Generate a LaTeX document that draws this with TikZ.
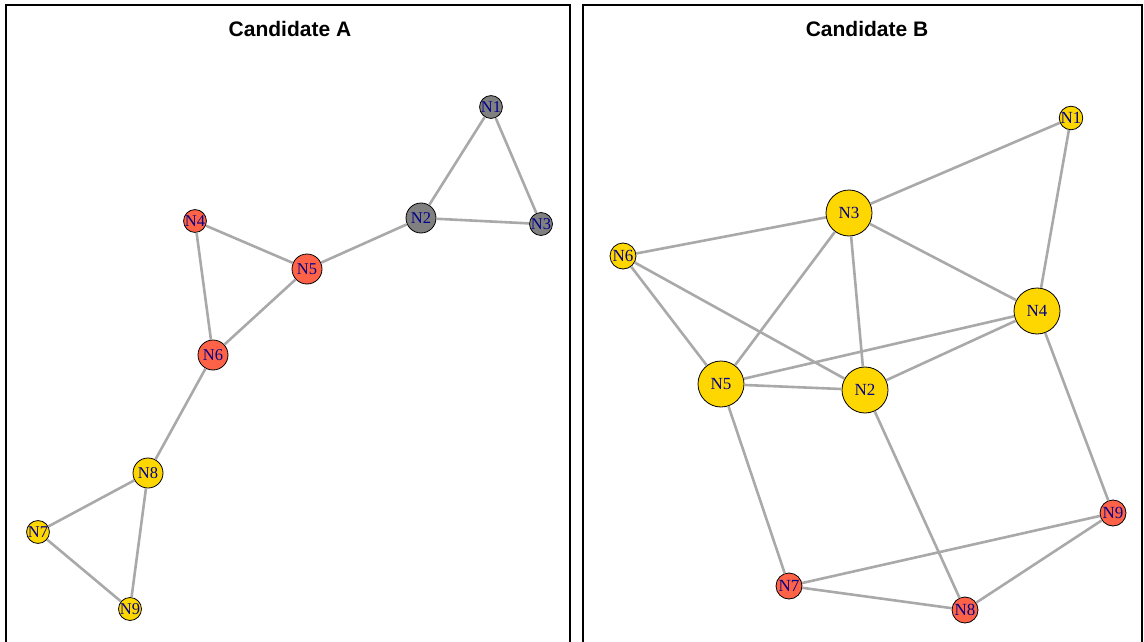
\documentclass[tikz,border=0pt]{standalone}
\usepackage{fontspec}
\setmainfont{Liberation Serif}
\newfontfamily\titlefont{Liberation Sans}
\definecolor{vtomato}{RGB}{255,99,71}
\definecolor{vgold}{RGB}{255,215,0}
\definecolor{vgray}{RGB}{128,128,128}
\definecolor{edgegray}{RGB}{169,169,169}
\definecolor{labblue}{RGB}{0,0,139}

\begin{document}
\begin{tikzpicture}[x=1pt, y=-1pt,
  vert/.style = {circle, draw=black, line width=.8pt, inner sep=0pt, text=labblue, font=\fontsize{16.5}{16.5}\selectfont},
  small/.style = {vert, minimum size=16pt},
  mid/.style = {vert, minimum size=30pt},
  big/.style = {vert, minimum size=46pt},
  bvert/.style = {vert, font=\fontsize{17}{17}\selectfont},
  edge/.style = {draw=edgegray, line width=2.6pt},
  panel/.style = {line width=2pt},
  title/.style = {font=\titlefont\bfseries\fontsize{21}{21}\selectfont},]

\useasboundingbox (0,0) rectangle (1144,642);

\draw[panel] (6,642) -- (6,5) -- (570,5) -- (570,642);
\draw[panel] (583,642) -- (583,5) -- (1142,5) -- (1142,642);

\node[title] (titleA) at (290,29) {Candidate A};
\node[title] (titleB) at (867,29) {Candidate B};

% Candidate A
\node[small, fill=vgray] (aN1) at (491,107) {N1};
\node[mid, fill=vgray] (aN2) at (421,218) {N2};
\node[small, fill=vgray] (aN3) at (541,224) {N3};
\node[small, fill=vtomato] (aN4) at (195,221) {N4};
\node[mid, fill=vtomato] (aN5) at (307,269) {N5};
\node[mid, fill=vtomato] (aN6) at (213,355) {N6};
\node[small, fill=vgold] (aN7) at (38,532) {N7};
\node[mid, fill=vgold] (aN8) at (148,473) {N8};
\node[small, fill=vgold] (aN9) at (130,609) {N9};

\foreach \s/\t in {aN1/aN2, aN1/aN3, aN2/aN3, aN2/aN5, aN4/aN5, aN4/aN6, aN5/aN6, aN6/aN8, aN8/aN7, aN8/aN9, aN7/aN9}
  \draw[edge] (\s) -- (\t);

% Candidate B
\node[small, bvert, fill=vgold] (bN1) at (1071,118) {N1};
\node[big, bvert, fill=vgold] (bN2) at (865,390) {N2};
\node[big, bvert, fill=vgold] (bN3) at (849,213) {N3};
\node[big, bvert, fill=vgold] (bN4) at (1037,311) {N4};
\node[big, bvert, fill=vgold] (bN5) at (721,384) {N5};
\node[bvert, minimum size=26pt, fill=vgold] (bN6) at (623,256) {N6};
\node[bvert, minimum size=26pt, fill=vtomato] (bN7) at (789,586) {N7};
\node[bvert, minimum size=26pt, fill=vtomato] (bN8) at (965,610) {N8};
\node[bvert, minimum size=26pt, fill=vtomato] (bN9) at (1113,513) {N9};

\foreach \s/\t in {bN1/bN3, bN1/bN4, bN3/bN6, bN3/bN4, bN3/bN5, bN3/bN2, bN6/bN5, bN6/bN2, bN4/bN5, bN4/bN2, bN5/bN2, bN5/bN7, bN2/bN8, bN4/bN9, bN9/bN7, bN9/bN8, bN7/bN8}
  \draw[edge] (\s) -- (\t);

\end{tikzpicture}
\end{document}
